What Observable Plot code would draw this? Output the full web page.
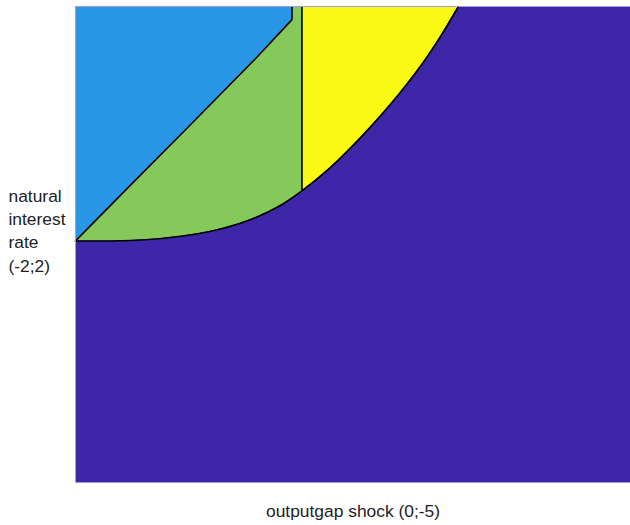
<!DOCTYPE html>
<html>
<head>
<meta charset="utf-8">
<script src="https://cdn.jsdelivr.net/npm/d3@7"></script>
<script src="https://cdn.jsdelivr.net/npm/@observablehq/plot@0.6"></script>
<style>
  html, body { margin: 0; padding: 0; background: #fff; }
  #chart { width: 630px; height: 525px; }
</style>
</head>
<body>
<div id="chart"></div>
<script>
// Parameter space: outputgap shock (x, 0 to -5) and natural interest rate (y, -2 to 2)
const xDomain = [0, -5];
const yDomain = [-2, 2];

// Lower boundary separating the bottom (purple) regime from the others
const boundaryX = [0, -0.32, -0.63, -0.95, -1.26, -1.58, -1.85, -2.04, -2.30, -2.57, -2.84, -3.11, -3.29, -3.45];
const boundaryY = [0.03, 0.03, 0.04, 0.07, 0.12, 0.21, 0.33, 0.45, 0.65, 0.90, 1.18, 1.50, 1.75, 2.0];

// Boundary between the blue and green regimes
const ridgeX = [0, -0.56, -1.04, -1.64, -1.95, -1.95];
const ridgeY = [0.03, 0.56, 1.01, 1.58, 1.89, 2.0];

// Vertical split between the green and yellow regimes
const splitX = -2.04;

const regionNames = ["bottom", "blue", "green", "yellow"];
const regionColors = ["#3e26a8", "#2a96e8", "#86c95b", "#f9fa14"];
const color = Object.fromEntries(regionNames.map((n, i) => [n, regionColors[i]]));

const xLabel = "outputgap shock (0;-5)";
const yLabel = "natural\ninterest\nrate\n(-2;2)";

const boundary = boundaryX.map((x, i) => ({x, y: boundaryY[i]}));
const ridge = ridgeX.map((x, i) => ({x, y: ridgeY[i]}));
const splitIndex = boundaryX.indexOf(splitX);
const greenPart = boundary.slice(0, splitIndex + 1);
const yellowPart = boundary.slice(splitIndex);
const yTop = yDomain[1];

const chart = Plot.plot({
  width: 630,
  height: 525,
  marginLeft: 75,
  marginRight: 0,
  marginTop: 6,
  marginBottom: 43,
  style: {fontFamily: "'Liberation Sans', Arial, sans-serif", background: "#fff"},
  x: {domain: xDomain, axis: null},
  y: {domain: yDomain, axis: null},
  marks: [
    Plot.rect([{}], {x1: xDomain[0], x2: xDomain[1], y1: yDomain[0], y2: yDomain[1], fill: color.bottom}),
    Plot.areaY(greenPart, {x: "x", y1: "y", y2: yTop, fill: color.green, curve: "catmull-rom"}),
    Plot.areaY(yellowPart, {x: "x", y1: "y", y2: yTop, fill: color.yellow, curve: "catmull-rom"}),
    Plot.areaY(ridge, {x: "x", y1: "y", y2: yTop, fill: color.blue}),
    Plot.line(boundary, {x: "x", y: "y", stroke: "#000", strokeWidth: 1.6, curve: "catmull-rom"}),
    Plot.line(ridge, {x: "x", y: "y", stroke: "#000", strokeWidth: 1.6}),
    Plot.ruleX([splitX], {y1: boundaryY[splitIndex], y2: yTop, stroke: "#000", strokeWidth: 1.6}),
    Plot.frame({stroke: "#a59be0", strokeWidth: 1}),
    Plot.text([xLabel], {frameAnchor: "bottom", dy: 29, lineAnchor: "middle", fontSize: 17.4, fill: "#222"}),
    Plot.text([yLabel], {frameAnchor: "left", dx: -67, dy: -15, textAnchor: "start", lineAnchor: "middle", lineHeight: 1.33, fontSize: 17.4, fill: "#222"})
  ]
});

document.getElementById("chart").append(chart);
</script>
</body>
</html>
